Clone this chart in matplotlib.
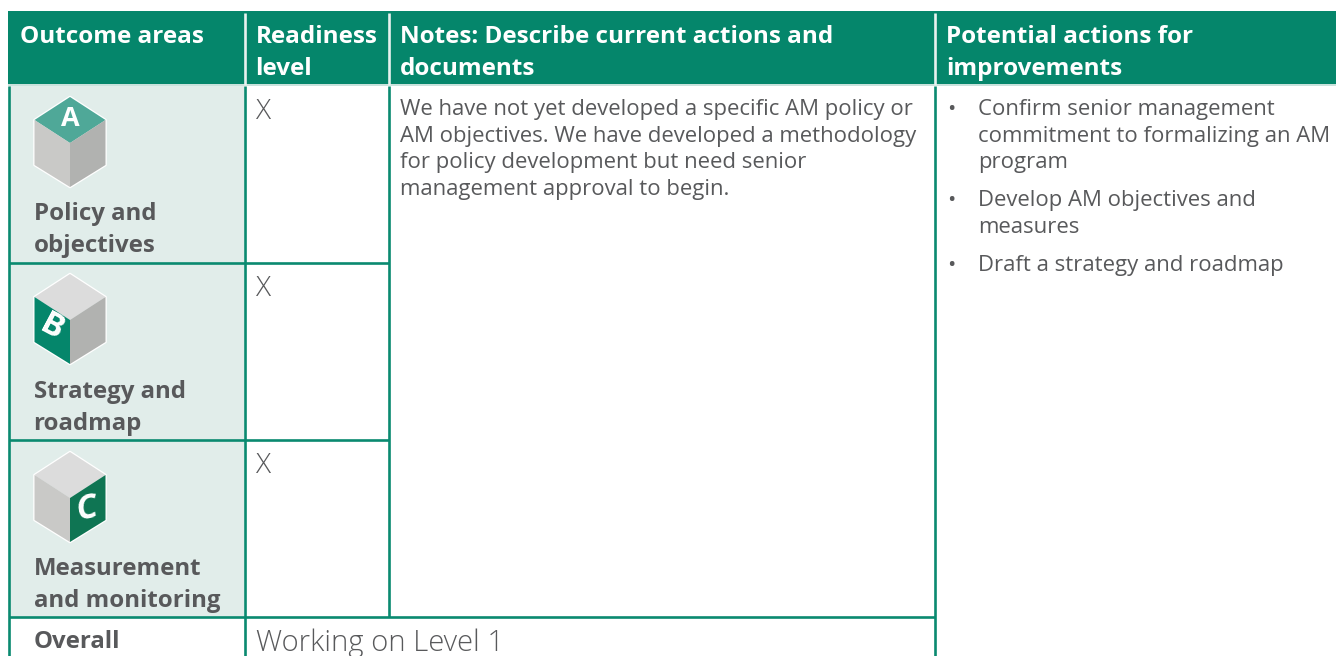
import matplotlib
matplotlib.use("Agg")
import matplotlib.pyplot as plt
from matplotlib.patches import Polygon, Rectangle

plt.rcParams['font.family'] = ['Open Sans', 'DejaVu Sans']

# Table content
headers = [["Outcome areas"], ["Readiness", "level"],
           ["Notes: Describe current actions and", "documents"],
           ["Potential actions for", "improvements"]]
outcomes = [["Policy and", "objectives"], ["Strategy and", "roadmap"],
            ["Measurement", "and monitoring"]]
cube_letters = ["A", "B", "C"]
readiness = ["X", "X", "X"]
notes = ["We have not yet developed a specific AM policy or",
         "AM objectives. We have developed a methodology",
         "for policy development but need senior",
         "management approval to begin."]
actions = [["Confirm senior management", "commitment to formalizing an AM", "program"],
           ["Develop AM objectives and", "measures"],
           ["Draft a strategy and roadmap"]]
overall_label = "Overall"
overall_value = "Working on Level 1"

# Colours
green = "#05866B"
line_green = "#0A8A70"
cell_bg = "#E1EDEA"
grey_text = "#58595B"

# Layout, in pixels of the 1336x656 image
col_x = [8, 244.5, 388.5, 935]
row_y = [86, 263, 440, 617]
header_baselines = [43, 75]
action_baselines = [[115, 142, 168], [206, 233], [271]]
note_baselines = [115, 142, 168, 195]
px = 0.72  # pt per pixel at dpi 100
line_w = 1.9

fig = plt.figure(figsize=(13.36, 6.56), dpi=100)
ax = fig.add_axes([0, 0, 1, 1])
ax.set_xlim(0, 1336)
ax.set_ylim(656, 0)
ax.axis("off")

# Header band
ax.add_patch(Rectangle((8, 11), 1328, 73, fc=green, ec="none"))
ax.plot([8, 1336], [85, 85], color="#BFDDD6", lw=1.2, solid_capstyle="butt")
for x in col_x[1:]:
    ax.plot([x, x], [13, 85], color="#E8F2EF", lw=line_w, solid_capstyle="butt")
text_x = [20.5, 255.5, 399.5, 946.5]
for x, lines in zip(text_x, headers):
    for y, s in zip(header_baselines, lines):
        ax.text(x, y, s, color="white", fontsize=24.3 * px, fontweight="bold", va="baseline")

# Outcome cells
ax.add_patch(Rectangle((9, row_y[0]), 235, row_y[3] - row_y[0], fc=cell_bg, ec="none"))

# Grid lines
for y in row_y[1:3]:
    ax.plot([9, col_x[2]], [y, y], color=line_green, lw=line_w, solid_capstyle="butt")
ax.plot([9, col_x[3]], [row_y[3], row_y[3]], color=line_green, lw=line_w, solid_capstyle="butt")
ax.plot([9, 9], [row_y[0], 656], color=line_green, lw=line_w, solid_capstyle="butt")
ax.plot([col_x[1], col_x[1]], [row_y[0], 656], color=line_green, lw=line_w, solid_capstyle="butt")
ax.plot([col_x[2], col_x[2]], [row_y[0], row_y[3]], color=line_green, lw=line_w, solid_capstyle="butt")
ax.plot([col_x[3], col_x[3]], [row_y[0], 656], color=line_green, lw=line_w, solid_capstyle="butt")


def draw_cube(top_y, top_col, left_col, right_col):
    cx, w = 70, 35.5
    top = [(cx, top_y), (cx + w, top_y + 23), (cx, top_y + 46), (cx - w, top_y + 23)]
    left = [(cx - w, top_y + 23), (cx, top_y + 46), (cx, top_y + 90), (cx - w, top_y + 68)]
    right = [(cx + w, top_y + 23), (cx, top_y + 46), (cx, top_y + 90), (cx + w, top_y + 68)]
    outline = [top[0], top[1], right[3], left[2], left[3], left[0]]
    ax.add_patch(Polygon(outline, closed=True, fc="none", ec="white", lw=1.8, joinstyle="round"))
    ax.add_patch(Polygon(top, closed=True, fc=top_col, ec="none"))
    ax.add_patch(Polygon(left, closed=True, fc=left_col, ec="none"))
    ax.add_patch(Polygon(right, closed=True, fc=right_col, ec="none"))


cube_tops = [97, 274, 452]
draw_cube(cube_tops[0], "#4FA898", "#C9C9C7", "#B1B2B0")
draw_cube(cube_tops[1], "#DCDCDC", green, "#B1B2B0")
draw_cube(cube_tops[2], "#DCDCDC", "#C9C9C7", "#0F7553")
ax.text(70, 119, cube_letters[0], color="white", fontsize=27 * px, fontweight="bold",
        ha="center", va="center")
ax.text(52, 328, cube_letters[1], color="white", fontsize=33 * px, fontweight="bold",
        ha="center", va="center", rotation=-28, rotation_mode="anchor")
ax.text(87, 509, cube_letters[2], color="white", fontsize=34 * px, fontweight="bold",
        style="italic", ha="center", va="center", rotation=12, rotation_mode="anchor")

# Body text
outcome_baselines = [[220, 252], [398, 430], [575, 607]]
for lines, ys in zip(outcomes, outcome_baselines):
    for y, s in zip(ys, lines):
        ax.text(33.5, y, s, color=grey_text, fontsize=24 * px, fontweight="bold", va="baseline")
for x_mark, y in zip(readiness, [119, 296, 473]):
    ax.text(255.5, y, x_mark, color=grey_text, fontsize=28 * px, fontweight="light", va="baseline")
for y, s in zip(note_baselines, notes):
    ax.text(400, y, s, color=grey_text, fontsize=22.2 * px, va="baseline")
for lines, ys in zip(actions, action_baselines):
    ax.text(947, ys[0], "•", color=grey_text, fontsize=22 * px, va="baseline")
    for y, s in zip(ys, lines):
        ax.text(978, y, s, color=grey_text, fontsize=22.2 * px, va="baseline")
ax.text(33.5, 648, overall_label, color=grey_text, fontsize=24 * px, fontweight="bold", va="baseline")
ax.text(256, 651, overall_value, color=grey_text, fontsize=29.3 * px, fontweight="light", va="baseline")

fig.savefig("out.png", dpi=100)
